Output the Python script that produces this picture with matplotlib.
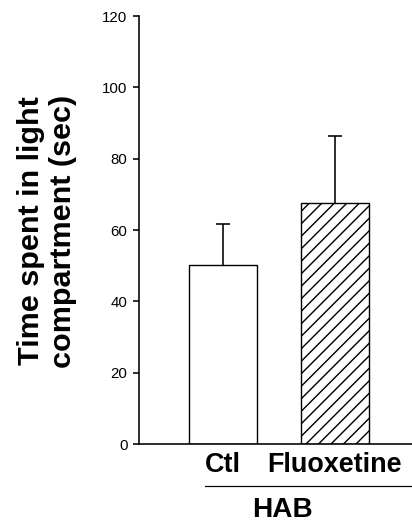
import matplotlib
matplotlib.use("Agg")
import matplotlib.pyplot as plt

categories = ["Ctl", "Fluoxetine"]
means = [50.2, 67.5]
errors = [11.5, 18.9]
hatches = ["", "////"]
group_label = "HAB"
y_ticks = [0, 20, 40, 60, 80, 100, 120]
y_label = "Time spent in light\ncompartment (sec)"

DPI = 150
W, H = 412, 525
def pt(px):
    return px * 72.0 / DPI

plt.rcParams["font.family"] = ["Liberation Sans", "DejaVu Sans"]
plt.rcParams["hatch.linewidth"] = pt(1.4)
plt.rcParams["hatch.color"] = "black"

fig = plt.figure(figsize=(W / DPI, H / DPI), dpi=DPI)
ax_left, ax_right, ax_top, ax_bottom = 139, 412, 16, 444
ax = fig.add_axes([ax_left / W, (H - ax_bottom) / H,
                   (ax_right - ax_left) / W, (ax_bottom - ax_top) / H])

x = list(range(len(categories)))
bars = ax.bar(x, means, width=0.61, color="white", edgecolor="black",
              linewidth=pt(1.4), zorder=2)
for b, h in zip(bars, hatches):
    b.set_hatch(h)
eb = ax.errorbar(x, means, yerr=[[0] * len(errors), errors], fmt="none",
                 ecolor="black", elinewidth=pt(1.6), capsize=pt(7),
                 capthick=pt(1.6), zorder=1)
# hide the lower caps (one-sided error bars)
eb[1][0].set_visible(False)

ax.set_xlim(-0.749, 1.691)
ax.set_ylim(0, 120)
ax.set_yticks(y_ticks)
ax.set_yticklabels([str(v) for v in y_ticks], fontsize=pt(15))
ax.tick_params(axis="y", direction="out", length=pt(6.5), width=pt(1.6),
               pad=pt(5), colors="black")
ax.set_xticks(x)
ax.set_xticklabels(categories, fontsize=pt(27), fontweight="bold")
ax.tick_params(axis="x", length=0, pad=pt(8))
for s in ["top", "right"]:
    ax.spines[s].set_visible(False)
for s in ["left", "bottom"]:
    ax.spines[s].set_linewidth(pt(1.6))
    ax.spines[s].set_color("black")

# group line and label
line_y = (ax_bottom - 485.7) / (ax_bottom - ax_top)
ax.plot([(205 - ax_left) / (ax_right - ax_left), 1.0], [line_y, line_y],
        transform=ax.transAxes, color="black", linewidth=pt(1.2), clip_on=False)
fig.text(282.5 / W, (H - 510) / H, group_label, fontsize=pt(28),
         fontweight="bold", ha="center", va="center")

fig.text(47 / W, (H - 231) / H, y_label, rotation=90, fontsize=pt(30.5),
         fontweight="bold", ha="center", va="center", multialignment="center",
         linespacing=1.15)

fig.savefig("out.png", dpi=DPI)
